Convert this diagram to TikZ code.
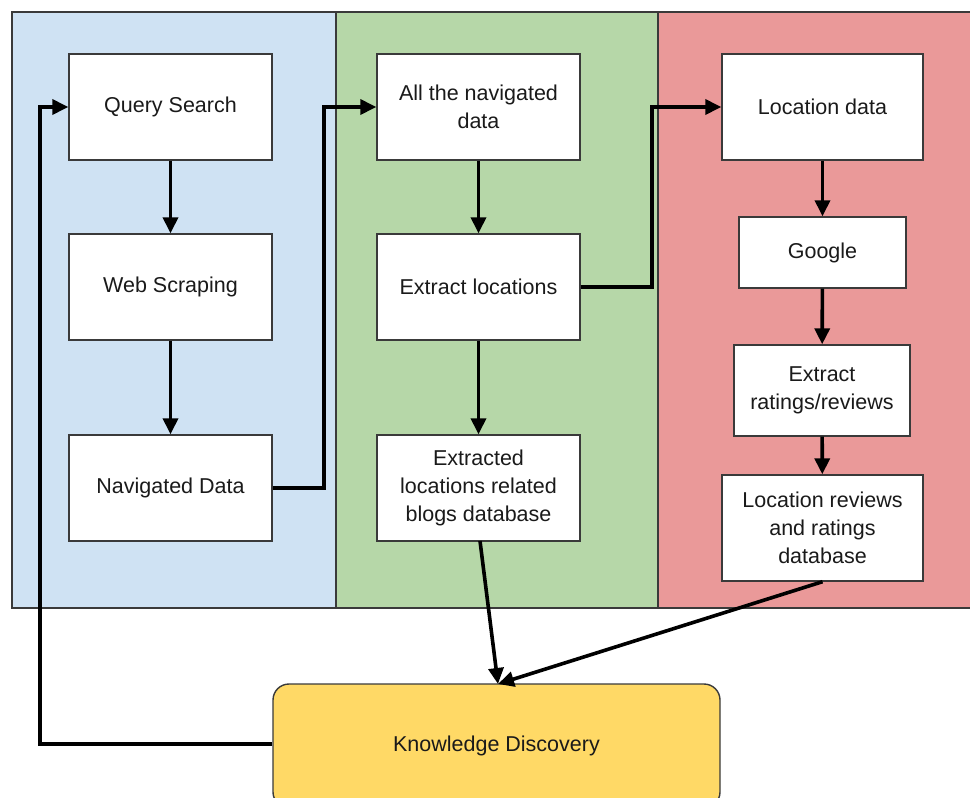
\documentclass[tikz,border=0pt]{standalone}
\usepackage{fontspec}
\setmainfont{Liberation Sans}
\usetikzlibrary{arrows.meta}
\definecolor{pblue}{HTML}{CFE2F3}
\definecolor{pgreen}{HTML}{B6D7A8}
\definecolor{pred}{HTML}{EA9999}
\definecolor{pyellow}{HTML}{FFD966}
\definecolor{edge}{HTML}{3A3A3A}
\definecolor{txt}{HTML}{1A1A1A}
\tikzset{
  panel/.style={draw=edge, line width=1.4pt},
  box/.style={draw=edge, fill=white, line width=1.4pt, align=center, inner sep=0pt,
    text=txt, font=\fontsize{21.5}{28}\selectfont},
  conn/.style={line width=3.6pt, -{Triangle[length=16pt,width=15pt]}},
}
\begin{document}
\begin{tikzpicture}[x=1pt,y=-1pt]
\useasboundingbox (0,0) rectangle (970,798);
\begin{scope}
\clip (0,0) rectangle (970,798);
% panels
\draw[panel, fill=pblue] (12,12) rectangle (336,608);
\draw[panel, fill=pgreen] (336,12) rectangle (658,608);
\draw[panel, fill=pred] (658,12) rectangle (985,608);
% nodes
\node[box, minimum width=203pt, minimum height=106pt] (qs) at (170.5,107) {Query Search};
\node[box, minimum width=203pt, minimum height=106pt] (ws) at (170.5,287) {Web Scraping};
\node[box, minimum width=203pt, minimum height=106pt] (nd) at (170.5,488) {Navigated Data};
\node[box, minimum width=203pt, minimum height=106pt] (an) at (478.5,107) {All the navigated\\data};
\node[box, minimum width=203pt, minimum height=106pt] (el) at (478.5,287) {Extract locations};
\node[box, minimum width=203pt, minimum height=106pt] (ed) at (478.5,488) {Extracted\\locations related\\blogs database};
\node[box, minimum width=201pt, minimum height=106pt] (ld) at (822.5,107) {Location data};
\node[box, minimum width=167pt, minimum height=71pt] (gg) at (822.5,252.5) {Google};
\node[box, minimum width=176pt, minimum height=91pt] (er) at (822,390.5) {Extract\\ratings/reviews};
\node[box, minimum width=201pt, minimum height=106pt] (lr) at (822.5,528) {Location reviews\\and ratings\\database};
\node[box, fill=pyellow, rounded corners=16pt, minimum width=447pt, minimum height=124pt] (kd) at (496.5,746) {Knowledge Discovery};
% connectors
\draw[conn] (qs) -- (ws);
\draw[conn] (ws) -- (nd);
\draw[conn] (nd.east) -- (324,488) -- (324,107) -- (an.west);
\draw[conn] (an) -- (el);
\draw[conn] (el) -- (ed);
\draw[conn] (el.east) -- (652,287) -- (652,107) -- (ld.west);
\draw[conn] (ld) -- (gg);
\draw[conn] (gg) -- (er);
\draw[conn] (er) -- (lr);
\coordinate (kdin) at (498,684);
\draw[conn] (480,541) -- (kdin);
\draw[conn] (lr.south) -- (kdin);
\draw[conn] (kd.west |- 0,744) -- (40,744) -- (40,107) -- (qs.west);
\end{scope}
\end{tikzpicture}
\end{document}
